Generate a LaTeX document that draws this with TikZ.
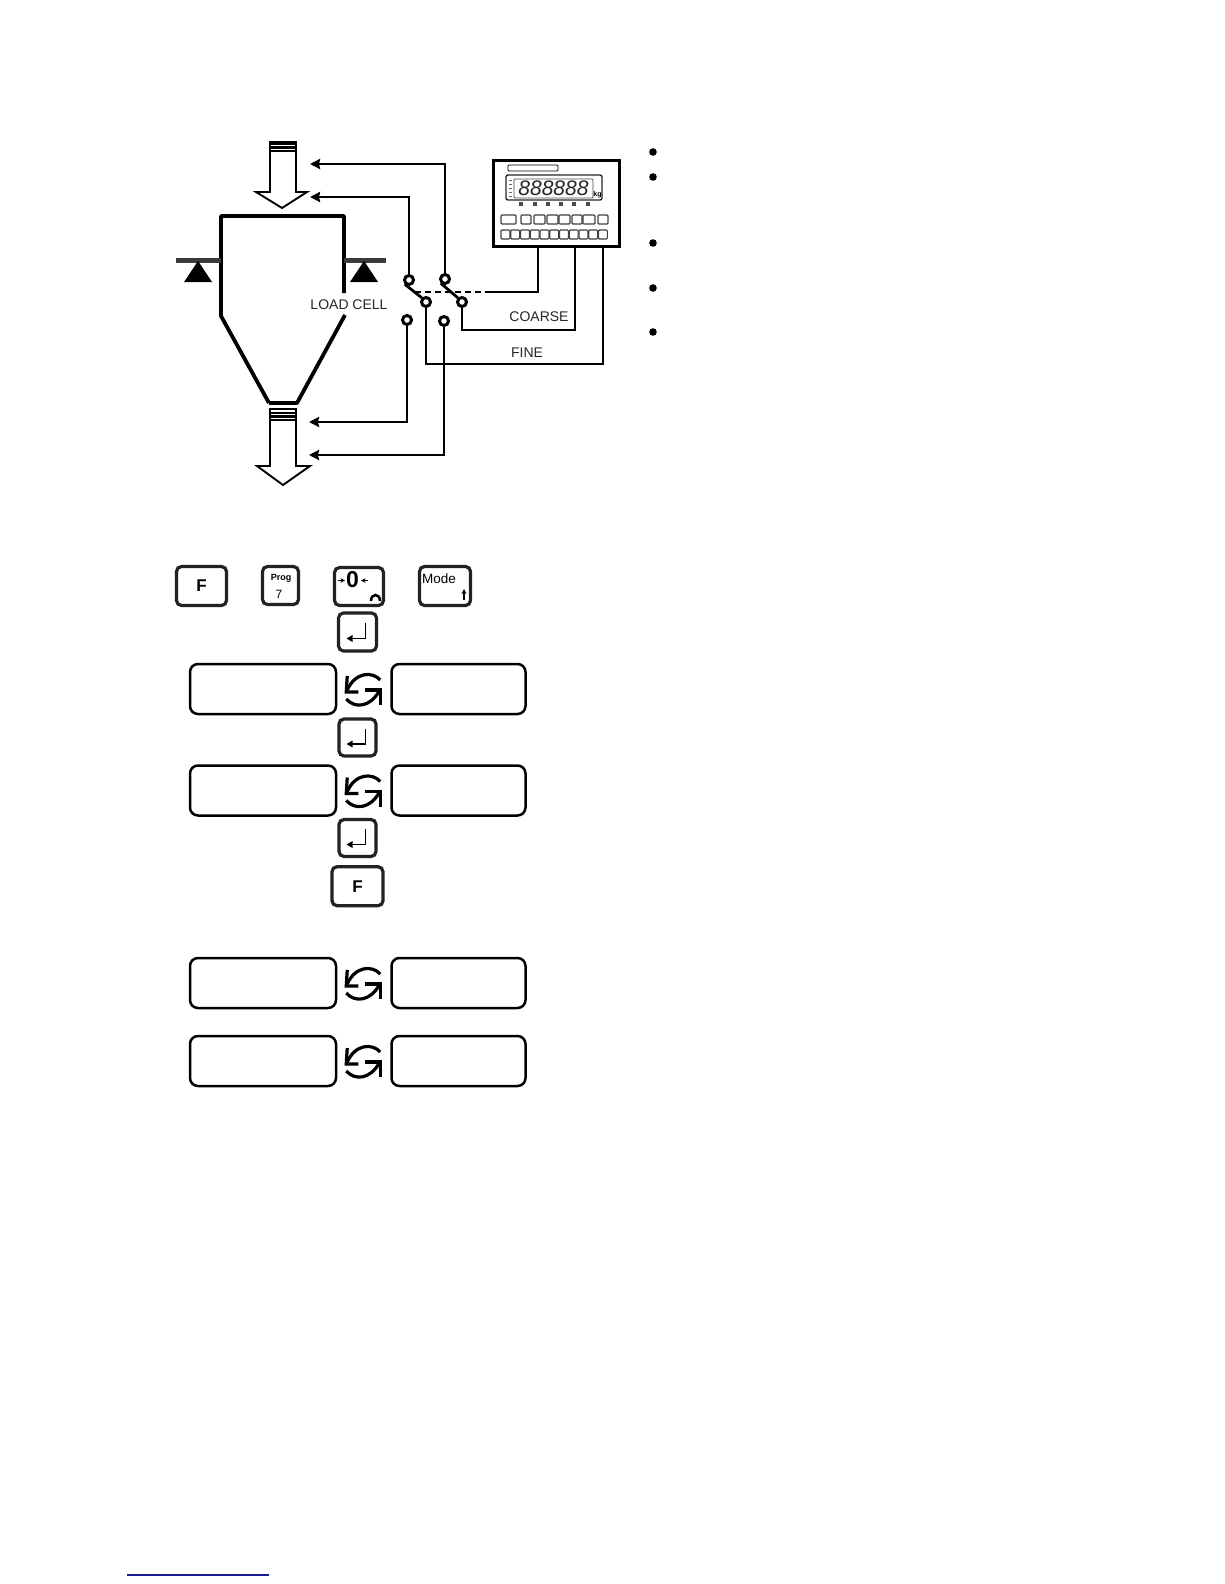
\documentclass[tikz,border=0pt]{standalone}
\usepackage{fontspec}
\setmainfont{Liberation Sans}
\usetikzlibrary{positioning,arrows.meta,calc}
\definecolor{keyline}{HTML}{222222}
\definecolor{armgray}{HTML}{3A3A3A}
\definecolor{linkblue}{HTML}{1A1A8C}
\tikzset{
  keycap/.style={draw=keyline, line width=3.2pt, rounded corners=5pt, inner sep=0pt,
                 font=\fontsize{17}{19}\selectfont\bfseries, fill=white},
  lcd/.style={draw, line width=2.5pt, rounded corners=8pt, fill=white, minimum height=50pt},
  contact/.style={circle, draw, line width=3pt, minimum size=9pt, inner sep=0pt, fill=white},
  lab/.style={inner sep=0pt, font=\fontsize{14}{16}\selectfont, text=black!85},
  tiny/.style={inner sep=0pt, font=\fontsize{9.5}{11}\selectfont},
  wire/.style={line width=2.8pt},
  flow/.style={line width=2.5pt, -{Stealth[length=10pt,width=10pt,inset=1pt]}},
  chute/.style={draw, line width=1.9pt, fill=white, line join=miter},
  wall/.style={line width=3.8pt, line join=round},
  cycle/.pic={
    \draw[line width=3.2pt] (18,-9) .. controls (10,-18) and (-7,-17) .. (-15,1);
    \draw[line width=3.2pt] (-15,-13) -- (-16,3) -- (-4,3);
    \draw[line width=3.2pt] (-16,10) .. controls (-7,20) and (8,18) .. (17,2);
    \draw[line width=3.2pt] (3,1) -- (18,1) -- (18,16);
  },
  enterglyph/.pic={
    \draw[line width=1.9pt, -{Stealth[length=6pt,width=6.5pt,inset=0pt]}] (8,-9) -- (8,6.5) -- (-11,6.5);
  },
}
\begin{document}
\begin{tikzpicture}[x=1pt,y=-1pt]
  \useasboundingbox (0,0) rectangle (1224,1584);

  % hopper
  \draw[wall] (269,403) -- (221,316) -- (221,216) -- (344,216) -- (344,293);
  \draw[wall] (345,315) -- (297,403) -- (269,403);
  \draw[armgray, line width=5pt] (176,260) -- (221,260);
  \draw[armgray, line width=5pt] (344,260) -- (386,260);
  \fill (198,261) -- (212,282) -- (184,282) -- cycle;
  \fill (364,261) -- (378,282) -- (350,282) -- cycle;
  \node[lab] (cell) at (349,305) {LOAD CELL};

  % feed and discharge arrows
  \draw[chute] (270,151) -- (270,192) -- (256,192) -- (282,208) -- (307,192) -- (296,192) -- (296,151);
  \draw[chute] (270,142) rectangle (296,151);
  \draw[line width=2.4pt] (270,144) -- (296,144) (270,147.5) -- (296,147.5);
  \draw[chute] (270,420) -- (270,466) -- (257,466) -- (283,485) -- (310,466) -- (296,466) -- (296,420);
  \draw[chute] (270,409) rectangle (296,420);
  \draw[line width=2.4pt] (270,413) -- (296,413) (270,416.5) -- (296,416.5);

  % indicator
  \node[draw, line width=3pt, minimum width=126pt, minimum height=86pt, inner sep=0pt] (panel) at (556,203) {};
  \draw[line width=.8pt, rounded corners=1pt] (508,165) rectangle (558,171);
  \draw[line width=1.4pt, rounded corners=2pt, draw=black!85] (506,175) rectangle (602,200);
  \draw[line width=.8pt, draw=black!70, rounded corners=1pt] (514,179) rectangle (593,198);
  \node[inner sep=0pt, font=\fontsize{21}{23}\selectfont\itshape, text=black!85] (digits) at (553.5,188.5) {888888};
  \node[inner sep=0pt, font=\fontsize{7}{8}\selectfont\bfseries] (unit) at (597.5,195) {kg};
  \foreach \yy in {180,184,188,192,196}
    \draw[line width=.8pt, black!60] (509,\yy) -- (512,\yy);
  \foreach \xx in {521,535,548,561,574,588}
    \fill[black!70] (\xx-2,202) rectangle (\xx+2,206);
  \foreach \xa/\xb in {501/516,521/531,534/545,547/558,559/570,572/582,583/595,598/608}
    \draw[line width=1.1pt, draw=black!75, rounded corners=1pt] (\xa,215) rectangle (\xb,224);
  \foreach \i in {0,...,10}
    \draw[line width=1.1pt, draw=black!75, rounded corners=1pt] (501+9.75*\i,230) rectangle (500.5+9.75*\i+9.3,239);

  % contacts
  \node[contact] (swA) at (409,280) {};
  \node[contact] (swB) at (445,279) {};
  \node[contact] (coA) at (426,302) {};
  \node[contact] (coB) at (462,302) {};
  \node[contact] (opA) at (407,320) {};
  \node[contact] (opB) at (444,321) {};
  \coordinate (feedA) at (310,164);
  \coordinate (feedB) at (310,197);
  \coordinate (dropA) at (309,422);
  \coordinate (dropB) at (309,455);
  \coordinate (rodL) at (415,292);
  \coordinate (rodM) at (490,292);
  \coordinate (rodR) at (538,292);
  \draw[flow] (swB.north) |- (feedA);
  \draw[flow] (swA.north) |- (feedB);
  \draw[flow] (opA.south) |- (dropA);
  \draw[flow] (opB.south) |- (dropB);
  \draw[wire] (swA.south west) -- (coA.north west);
  \draw[wire] (swB.south west) -- (coB.north west);
  \draw[wire, dash pattern=on 6pt off 4pt] (rodL) -- (rodM);
  \draw[wire] (rodM) -- (rodR) -- (rodR |- panel.south);
  \draw[wire] (coB.south) |- (575,330) -- (575,246);
  \draw[wire] (coA.south) |- (603,364) -- (603,246);
  \node[lab] (coarse) at (539,317) {COARSE};
  \node[lab] (fine) at (527,353) {FINE};

  % bullets
  \foreach \yy in {152,177,243,288,332}
    \fill (653,\yy) circle (3.8pt);

  % key row
  \node[keycap, minimum width=50pt, minimum height=39pt] (keyF) at (201.5,586) {F};
  \node[keycap, minimum width=36pt, minimum height=38pt] (keyProg) at (280.5,585.5) {};
  \node[tiny, font=\fontsize{9}{10}\selectfont\bfseries] (progA) at (281,578) {Prog};
  \node[tiny, font=\fontsize{12}{14}\selectfont] (progB) at (279,594) {7};
  \node[keycap, minimum width=49pt, minimum height=38pt] (keyZero) at (359,586.5) {};
  \node[inner sep=0pt, font=\fontsize{23}{25}\selectfont\bfseries] (zero) at (352.5,580) {0};
  \draw[line width=1.6pt, -{Stealth[length=4.5pt,width=4.5pt]}] (338,580.5) -- (345,580.5);
  \draw[line width=1.6pt, -{Stealth[length=4.5pt,width=4.5pt]}] (368,580.5) -- (361,580.5);
  \draw[line width=2.6pt] (371,601) .. controls (371,593) and (380,593) .. (380,601);
  \node[keycap, minimum width=51pt, minimum height=39pt] (keyMode) at (445,586) {};
  \node[tiny, font=\fontsize{13.5}{15}\selectfont] (mode) at (439,579) {Mode};
  \draw[line width=1.6pt, -{Stealth[length=5pt,width=5pt]}] (464,600) -- (464,589);

  % displays
  \node[lcd, minimum width=146pt] (lcdL1) at (263,689) {};
  \node[lcd, minimum width=134pt, right=53pt of lcdL1] (lcdR1) {};
  \node[lcd, minimum width=146pt] (lcdL2) at (263,790.5) {};
  \node[lcd, minimum width=134pt, right=53pt of lcdL2] (lcdR2) {};
  \node[lcd, minimum width=146pt] (lcdL3) at (263,983) {};
  \node[lcd, minimum width=134pt, right=53pt of lcdL3] (lcdR3) {};
  \node[lcd, minimum width=146pt] (lcdL4) at (263,1061) {};
  \node[lcd, minimum width=134pt, right=53pt of lcdL4] (lcdR4) {};
  \foreach \n in {1,2,3,4}
    \pic at ($(lcdL\n.east)!.5!(lcdR\n.west)+(-1.5,0)$) {cycle};

  % enter keys
  \node[keycap, minimum size=38pt] (ent1) at (357.5,632) {};
  \node[keycap, minimum size=37pt] (ent2) at (357.5,737.5) {};
  \node[keycap, minimum size=37pt] (ent3) at (357.5,838) {};
  \node[keycap, minimum width=51pt, minimum height=39pt, below=7pt of ent3] (keyF2) {F};
  \foreach \n in {ent1,ent2,ent3}
    \pic at (\n) {enterglyph};

  % page footer rule
  \coordinate (ruleA) at (127,1575);
  \coordinate (ruleB) at (269,1575);
  \draw[linkblue, line width=1.2pt] (ruleA) -- (ruleB);
\end{tikzpicture}
\end{document}
